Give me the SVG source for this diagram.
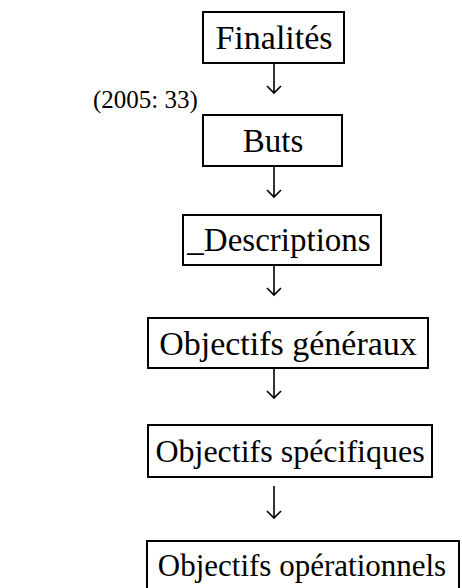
<svg xmlns="http://www.w3.org/2000/svg" width="462" height="588" viewBox="0 0 462 588">
<style>
.box{fill:#fff;stroke:#000;stroke-width:2}
.t{font-family:"Liberation Serif","Times New Roman",serif;font-size:32px;fill:#000;text-anchor:middle}
.lbl{font-family:"Liberation Serif","Times New Roman",serif;font-size:25px;fill:#000}
.c{stroke:#000;stroke-width:1.6;fill:none}
</style>
<rect width="462" height="588" fill="#fff"/>
<g id="n1"><rect class="box" x="203" y="12" width="141" height="51"/><text class="t" x="274" y="49" style="font-size:34px">Finalités</text></g>
<g id="n2"><rect class="box" x="203" y="115" width="139" height="51"/><text class="t" x="273" y="152" style="font-size:33px">Buts</text></g>
<g id="n3"><rect class="box" x="183" y="215" width="198" height="50"/><text class="t" x="279" y="251" style="font-size:33px">_Descriptions</text></g>
<g id="n4"><rect class="box" x="148" y="318" width="280" height="50"/><text class="t" x="288" y="355" style="font-size:34px">Objectifs généraux</text></g>
<g id="n5"><rect class="box" x="148" y="425" width="284" height="52"/><text class="t" x="290" y="462">Objectifs spécifiques</text></g>
<g id="n6"><rect class="box" x="147" y="541" width="312" height="50"/><text class="t" x="302" y="576" style="font-size:31px">Objectifs opérationnels</text></g>
<text class="lbl" x="93" y="108">(2005: 33)</text>
<g id="connectors">
<path class="c" d="M274 63V93M267 86L274 93L281 86"/>
<path class="c" d="M274 166V197M267 190L274 197L281 190"/>
<path class="c" d="M274 265V295M267 288L274 295L281 288"/>
<path class="c" d="M274 368V398M267 391L274 398L281 391"/>
<path class="c" d="M274 486V518M267 511L274 518L281 511"/>
</g>
</svg>
